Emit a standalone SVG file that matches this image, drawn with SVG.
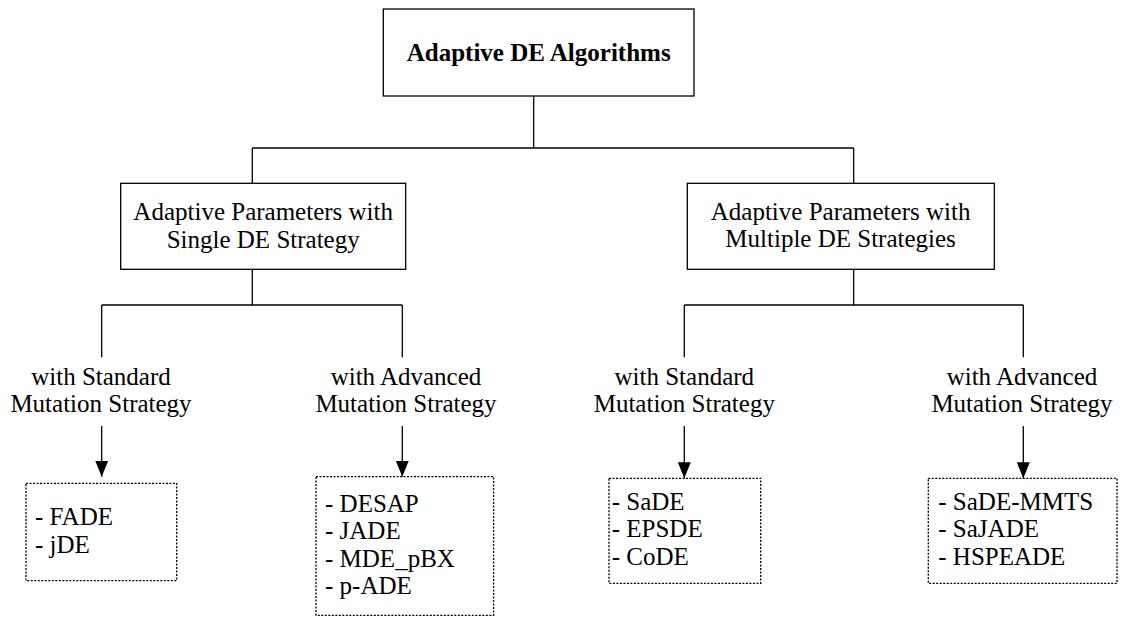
<svg xmlns="http://www.w3.org/2000/svg" width="1125" height="617" viewBox="0 0 1125 617">
<style>
text{font-family:'Liberation Serif','Tinos','Nimbus Roman','DejaVu Serif',serif;font-size:25px;fill:#000}
.c{text-anchor:middle}
.b{font-weight:bold}
.box{fill:#fff;stroke:#000;stroke-width:1.3}
.dot{fill:#fff;stroke:#000;stroke-width:1.3;stroke-dasharray:2 1.5}
.ln{fill:none;stroke:#000;stroke-width:1.3}
</style>
<defs>
<marker id="ah" markerUnits="userSpaceOnUse" markerWidth="16" markerHeight="13" refX="16" refY="6.5" orient="auto" viewBox="0 0 16 13">
<path d="M0,0 L16,6.5 L0,13 Z" fill="#000"/>
</marker>
</defs>
<rect width="1125" height="617" fill="#fff"/>
<g id="connectors">
<path class="ln" d="M533.7,96 V148 M252.3,148 H853.7 M252.3,148 V183.3 M853.7,148 V183.3"/>
<path class="ln" d="M252.3,269.3 V305 M101.7,305 H402.3 M101.7,305 V357.3 M402.3,305 V357.3"/>
<path class="ln" d="M853.7,269.3 V305 M684.3,305 H1023.3 M684.3,305 V357.3 M1023.3,305 V357.3"/>
<path class="ln" d="M101.7,426 V476.7" marker-end="url(#ah)"/>
<path class="ln" d="M402.3,426 V476.7" marker-end="url(#ah)"/>
<path class="ln" d="M684.3,426 V478.3" marker-end="url(#ah)"/>
<path class="ln" d="M1023.3,426 V478.3" marker-end="url(#ah)"/>
</g>
<g id="root">
<rect class="box" x="383.3" y="9" width="310.7" height="87"/>
<text class="c b" x="538.7" y="60.7" font-family="Liberation Serif, serif">Adaptive DE Algorithms</text>
</g>
<g id="single">
<rect class="box" x="120.7" y="183.3" width="285" height="86"/>
<text class="c" x="263.2" y="220">Adaptive Parameters with</text>
<text class="c" x="263.2" y="247.7">Single DE Strategy</text>
</g>
<g id="multiple">
<rect class="box" x="687.3" y="183.3" width="307" height="86"/>
<text class="c" x="840.6" y="220">Adaptive Parameters with</text>
<text class="c" x="840.6" y="247.3">Multiple DE Strategies</text>
</g>
<g id="label-single-standard">
<text class="c" x="101" y="385">with Standard</text>
<text class="c" x="101" y="411.7">Mutation Strategy</text>
</g>
<g id="label-single-advanced">
<text class="c" x="406" y="385">with Advanced</text>
<text class="c" x="406" y="411.7">Mutation Strategy</text>
</g>
<g id="label-multiple-standard">
<text class="c" x="684.3" y="385">with Standard</text>
<text class="c" x="684.3" y="411.7">Mutation Strategy</text>
</g>
<g id="label-multiple-advanced">
<text class="c" x="1022" y="385">with Advanced</text>
<text class="c" x="1022" y="411.7">Mutation Strategy</text>
</g>
<g id="list-single-standard">
<rect class="dot" x="26" y="483.3" width="150.7" height="97.4"/>
<text x="35" y="525">- FADE</text>
<text x="35" y="553.3">- jDE</text>
</g>
<g id="list-single-advanced">
<rect class="dot" x="316" y="476.7" width="177.6" height="138.6"/>
<text x="325" y="511.7">- DESAP</text>
<text x="325" y="539">- JADE</text>
<text x="325" y="566.7">- MDE_pBX</text>
<text x="325" y="594.3">- p-ADE</text>
</g>
<g id="list-multiple-standard">
<rect class="dot" x="609" y="478.3" width="151.7" height="105"/>
<text x="611.7" y="510">- SaDE</text>
<text x="611.7" y="537.3">- EPSDE</text>
<text x="611.7" y="565">- CoDE</text>
</g>
<g id="list-multiple-advanced">
<rect class="dot" x="928.3" y="478.3" width="188.7" height="105"/>
<text x="938.3" y="510">- SaDE-MMTS</text>
<text x="938.3" y="537.3">- SaJADE</text>
<text x="938.3" y="565">- HSPEADE</text>
</g>
</svg>
